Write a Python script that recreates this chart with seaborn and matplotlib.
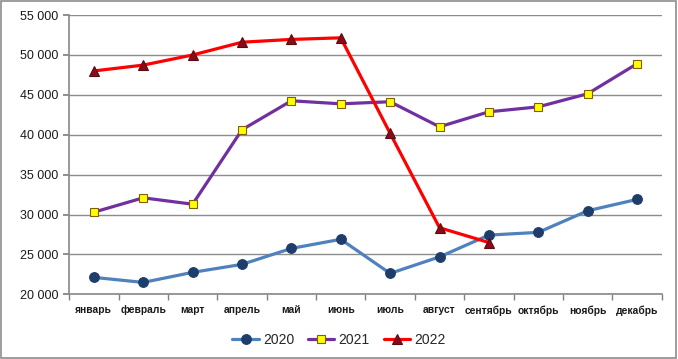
import numpy as np
import pandas as pd
import seaborn as sns
import matplotlib
matplotlib.use('Agg')
from matplotlib import pyplot as plt
from matplotlib.ticker import FuncFormatter

months = ['январь', 'февраль', 'март', 'апрель', 'май', 'июнь', 'июль',
          'август', 'сентябрь', 'октябрь', 'ноябрь', 'декабрь']
y2020 = [22130, 21500, 22760, 23760, 25760, 26900, 22630, 24700, 27430, 27770, 30480, 31900]
y2021 = [30300, 32100, 31300, 40630, 44260, 43880, 44140, 41000, 42880, 43500, 45140, 48900]
y2022 = [48000, 48730, 50000, 51600, 51950, 52150, 40180, 28350, 26500]

sns.set_theme(style='white')
plt.rcParams['font.family'] = ['Liberation Sans', 'DejaVu Sans']

fig = plt.figure(figsize=(6.78, 3.59), dpi=100)
ax = fig.add_axes([0.102, 0.18, 0.874, 0.778])

styles = [
    ('2020', y2020, '#4F81BD', 'o', '#1F3D6B', '#1F3D6B', 7),
    ('2021', y2021, '#7030A0', 's', '#FFFF00', '#7F5F00', 6),
    ('2022', y2022, '#FF0000', '^', '#8B0A1A', '#5A0A10', 7.5),
]
for name, vals, lc, mk, mfc, mec, ms in styles:
    df = pd.DataFrame({'month': months[:len(vals)], 'value': vals})
    sns.lineplot(data=df, x='month', y='value', ax=ax, color=lc, lw=2.3,
                 marker=mk, markersize=ms, markerfacecolor=mfc,
                 markeredgecolor=mec, markeredgewidth=0.8, label=name, sort=False)

ax.set_xlim(-0.5, 11.5)
ax.set_ylim(20000, 55000)
ax.set_yticks(range(20000, 55001, 5000))
ax.yaxis.set_major_formatter(FuncFormatter(lambda v, p: f'{int(v):,}'.replace(',', ' ')))
ax.set_xticks(range(12))
ax.set_xticklabels(months, fontsize=7.4, fontweight='bold', color='#1a1a1a')
ax.set_xticks(np.arange(-0.5, 12, 1), minor=True)
ax.tick_params(axis='x', which='major', length=0, pad=8)
ax.tick_params(axis='x', which='minor', length=4, color='#808080', direction='out', bottom=True)
ax.tick_params(axis='y', length=4, color='#808080', direction='out', left=True, labelsize=9,
               labelcolor='#1a1a1a')
ax.grid(axis='y', color='#8C8C8C', lw=1)
ax.set_axisbelow(True)
ax.set_xlabel('')
ax.set_ylabel('')
for s in ['top', 'right']:
    ax.spines[s].set_visible(False)
for s in ['left', 'bottom']:
    ax.spines[s].set_color('#8C8C8C')

ax.legend_.remove()
handles, labels = ax.get_legend_handles_labels()
fig.legend(handles, labels, loc='lower center', bbox_to_anchor=(0.5, 0.0), ncol=3,
           frameon=False, fontsize=10, handlelength=1.9, columnspacing=1.0, handletextpad=0.3)

border = plt.Rectangle((0.002, 0.003), 0.995, 0.993, transform=fig.transFigure,
                       fill=False, edgecolor='#8C8C8C', lw=1.2)
fig.patches.append(border)

fig.savefig('out.png', dpi=100)
